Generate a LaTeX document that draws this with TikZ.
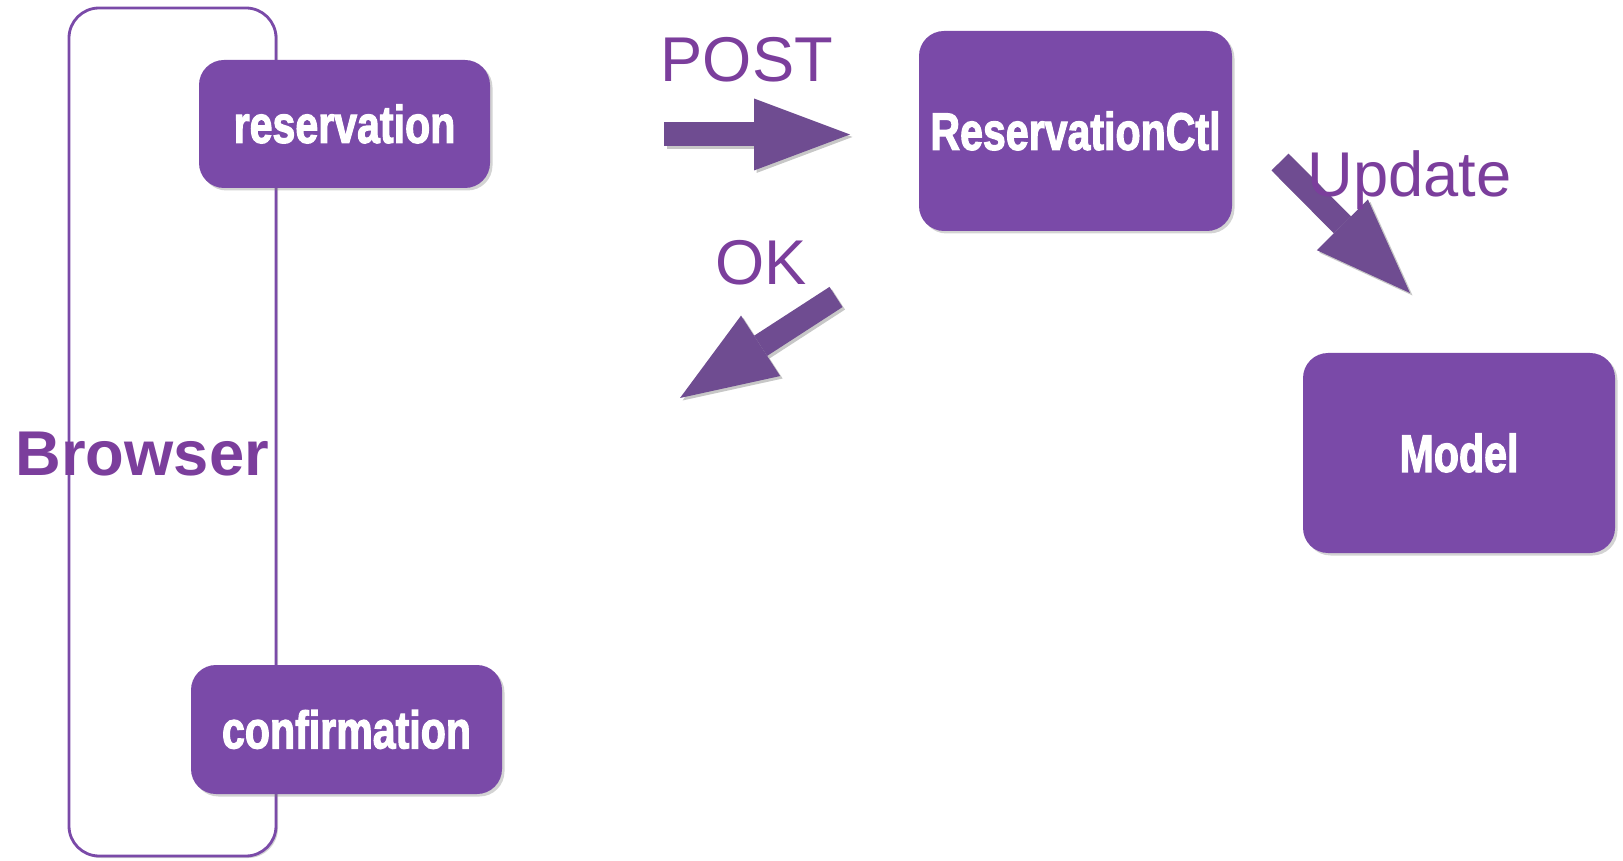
\documentclass[tikz,border=0pt]{standalone}
\usepackage{fontspec}
\setmainfont{Liberation Sans}
\newfontfamily\heavyfont[BoldFeatures={FakeBold=2.5}]{Liberation Sans}
\usepackage{graphicx}
\usetikzlibrary{arrows.meta,shadows}

\definecolor{boxpurple}{RGB}{122,74,168}
\definecolor{textpurple}{RGB}{123,62,156}
\definecolor{arrowpurple}{RGB}{111,76,145}
\newcommand{\boxtext}[1]{\scalebox{0.78}[1]{#1}}

\begin{document}
\begin{tikzpicture}[
  box/.style={fill=boxpurple, rounded corners=0.25cm, text=white, inner sep=0pt,
    font=\heavyfont\bfseries\fontsize{15}{18}\selectfont,
    drop shadow={shadow xshift=0.025cm, shadow yshift=-0.025cm, opacity=0.35}},
  msg/.style={text=textpurple, inner sep=0pt, anchor=base west,
    font=\fontsize{18}{22}\selectfont},
  blockarrow/.style={line width=0.24cm, arrowpurple,
    -{Triangle[length=0.96cm,width=0.72cm,line width=0pt]}},
  blockshadow/.style={blockarrow, black, opacity=0.22,
    transform canvas={shift={(0.025,-0.025)}}}
]
\useasboundingbox (0,0) rectangle (16.23,8.60);

% browser frame
\node [draw=boxpurple, line width=0.8pt, fill=white, rounded corners=0.3cm,
  minimum width=2.07cm, minimum height=8.48cm, inner sep=0pt,
  drop shadow={shadow xshift=0.02cm, shadow yshift=-0.02cm, opacity=0.35}]
  (browser) at (1.725,4.28) {};
\node [msg, font=\bfseries\fontsize{18}{22}\selectfont] (browserlabel) at (0.15,3.84) {Browser};

\node [box, minimum width=2.91cm, minimum height=1.28cm] (reservation) at (3.445,7.36) {\boxtext{reservation}};
\node [box, minimum width=3.11cm, minimum height=1.29cm] (confirmation) at (3.465,1.305) {\boxtext{confirmation}};
\node [box, minimum width=3.13cm, minimum height=2.00cm] (ctl) at (10.755,7.29) {\boxtext{ReservationCtl}};
\node [box, minimum width=3.12cm, minimum height=2.00cm] (model) at (14.59,4.07) {\boxtext{Model}};

% block arrows
\coordinate (postS) at (6.64,7.255);
\coordinate (postE) at (8.50,7.255);
\coordinate (okS) at (8.36,5.63);
\coordinate (okE) at (6.80,4.62);
\coordinate (updS) at (12.80,6.98);
\coordinate (updE) at (14.10,5.67);

\draw [blockshadow] (postS) -- (postE);
\draw [blockarrow] (postS) -- (postE);
\draw [blockshadow] (okS) -- (okE);
\draw [blockarrow] (okS) -- (okE);
\draw [blockshadow] (updS) -- (updE);
\draw [blockarrow] (updS) -- (updE);

\node [msg] (post) at (6.60,7.78) {POST};
\node [msg] (ok) at (7.15,5.75) {OK};
\node [msg] (update) at (13.07,6.63) {Update};

\end{tikzpicture}
\end{document}
